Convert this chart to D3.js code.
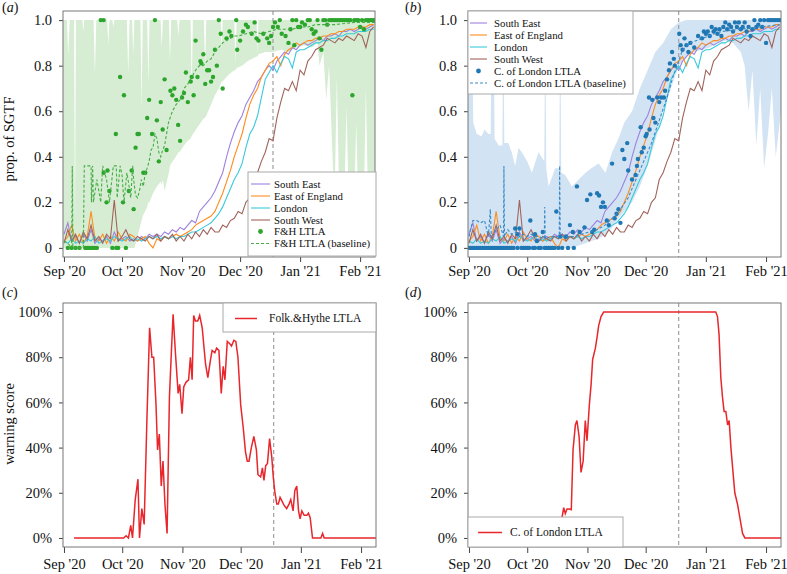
<!DOCTYPE html>
<html><head><meta charset="utf-8">
<script src="https://cdn.jsdelivr.net/npm/d3@7"></script>
<style>
body{margin:0;background:#fff}
svg text{font-family:"Liberation Serif","Times New Roman",serif;fill:#111}
</style></head><body>
<svg id="c" width="787" height="574"></svg>
<script>
// ---------- data ----------
const tickDays=[0,30,61,91,122,153];          // days since 1 Sep 2020
const tickLabels=["Sep '20","Oct '20","Nov '20","Dec '20","Jan '21","Feb '21"];
const propTicks=[0,0.2,0.4,0.6,0.8,1.0];
const propTickLabels=["0","0.2","0.4","0.6","0.8","1.0"];
const warnTicks=[0,0.2,0.4,0.6,0.8,1.0];
const warnTickLabels=["0%","20%","40%","60%","80%","100%"];
const markerDay=108;
const sampleDays=d3.range(0,161,2);
const regionNames=["South East","East of England","London","South West"];
const regionColors=["#9d82de","#ff8c1e","#38cadb","#a0645c"];

const southEast=[0.06,0.11,0.03,0.05,0.02,0.06,0.03,0.08,0.02,0.04,
 0.03,0.05,0.02,0.07,0.03,0.04,0.05,0.03,0.04,0.03,
 0.05,0.04,0.06,0.05,0.06,0.05,0.07,0.06,0.08,0.07,
 0.09,0.08,0.10,0.12,0.11,0.16,0.18,0.20,0.22,0.25,
 0.29,0.33,0.40,0.46,0.51,0.55,0.58,0.63,0.66,0.69,
 0.73,0.75,0.78,0.80,0.78,0.82,0.84,0.86,0.85,0.88,
 0.87,0.89,0.90,0.89,0.90,0.91,0.92,0.91,0.93,0.93,
 0.94,0.93,0.95,0.95,0.96,0.95,0.96,0.97,0.96,0.97,0.98];
const eastOfEngland=[0.03,0.05,0.10,0.03,0.06,0.02,0.05,0.16,0.04,0.03,
 0.06,0.02,0.05,0.03,0.07,0.04,0.03,0.06,0.05,0.03,
 0.04,0.05,0.02,0.00,0.04,0.03,0.05,0.04,0.05,0.06,
 0.05,0.06,0.07,0.08,0.10,0.11,0.12,0.13,0.14,0.16,
 0.20,0.24,0.29,0.34,0.40,0.45,0.50,0.57,0.63,0.67,
 0.70,0.75,0.78,0.81,0.82,0.84,0.80,0.85,0.87,0.88,
 0.90,0.89,0.90,0.91,0.91,0.92,0.92,0.93,0.93,0.94,
 0.94,0.95,0.95,0.96,0.96,0.96,0.97,0.97,0.97,0.98,0.98];
const london=[0.03,0.02,0.04,0.02,0.03,0.02,0.04,0.03,0.05,0.02,
 0.03,0.04,0.03,0.05,0.04,0.03,0.04,0.05,0.03,0.04,
 0.03,0.04,0.05,0.04,0.05,0.04,0.05,0.04,0.05,0.04,
 0.05,0.05,0.06,0.07,0.07,0.08,0.09,0.10,0.11,0.13,
 0.15,0.18,0.22,0.26,0.30,0.33,0.37,0.44,0.50,0.53,
 0.58,0.66,0.74,0.77,0.80,0.77,0.81,0.84,0.83,0.79,
 0.86,0.87,0.87,0.88,0.89,0.90,0.90,0.91,0.91,0.92,
 0.92,0.93,0.93,0.94,0.94,0.94,0.95,0.95,0.95,0.96,0.96];
const southWest=[0.02,0.08,0.03,0.06,0.02,0.07,0.04,0.10,0.03,0.05,
 0.02,0.06,0.04,0.21,0.03,0.05,0.08,0.04,0.03,0.05,
 0.04,0.03,0.05,0.04,0.06,0.03,0.05,0.04,0.06,0.03,
 0.05,0.03,0.06,0.04,0.07,0.05,0.08,0.06,0.09,0.07,
 0.07,0.10,0.09,0.12,0.13,0.16,0.15,0.20,0.22,0.30,
 0.33,0.38,0.42,0.48,0.47,0.57,0.64,0.70,0.69,0.73,
 0.69,0.78,0.76,0.82,0.84,0.87,0.88,0.89,0.92,0.91,
 0.90,0.92,0.91,0.93,0.92,0.91,0.94,0.93,0.88,0.95,0.97];

// uncertainty bands: [day, lower, upper]
const fhBand=[[-0.5,0,1],[1.5,0,1],[2.2,0,0.85],[3,0,1],[5.2,0,1],[5.7,0,0.11],[6.2,0,1],[9.5,0,1],[10,0,0.95],[10.5,0,1],
 [15.3,0,1],[16,0,0.76],[16.7,0,1],[22.3,0,1],[22.9,0,0.89],[23.5,0,1],[25,0,1],[25.5,0,0.97],[26,0,1],[32.5,0,1],
 [33.2,0,0.76],[33.9,0,1],[35.2,0,1],[35.8,0,0.85],[36.4,0,1],[38,0.05,1],[39.5,0.1,1],[40.1,0.12,0.61],[40.7,0.14,1],
 [43,0.18,1],[43.6,0.2,0.72],[44.2,0.2,1],[46,0.24,1],[48,0.27,1],[49.9,0.29,1],[50.5,0.28,0.88],[51.1,0.3,1],[52,0.25,1],
 [54.2,0.33,1],[54.8,0.36,0.82],[55.4,0.37,1],[57,0.39,1],[58.5,0.41,1],[59.1,0.42,0.93],[59.7,0.42,1],[62,0.45,1],
 [64,0.47,1],[65.4,0.48,1],[66,0.49,0.7],[66.6,0.5,1],[69,0.53,1],[72.3,0.57,1],[72.9,0.57,0.78],[73.5,0.58,1],[76,0.63,1],
 [78,0.67,1],[80,0.7,1],[81,0.72,1],[81.5,0.73,0.87],[82,0.73,1],[85,0.76,1],[88,0.78,1],[88.6,0.78,0.81],[89.2,0.79,1],
 [92,0.8,1],[95,0.82,1],[99.5,0.84,1],[100,0.84,0.85],[100.5,0.85,1],[104,0.86,1],[108,0.86,1],[112,0.87,1],[116,0.86,1],
 [120,0.88,1],[124,0.89,1],[128,0.88,1],[131,0.9,1],[132,0.8,1],[134,0.86,1],[135.5,0.65,1],[137,0.8,1],[139,0.35,1],
 [140,0.3,1],[141,0.75,1],[142,0.3,1],[145,0.28,1],[146,0.62,1],[147,0.25,1],[150,0.22,1],[151,0.55,1],[152,0.2,1],
 [155,0.25,1],[156,0.7,1],[157,0.25,1],[160.7,0.3,1]];
const colBand=[[-0.5,0,0.6],[0.4,0,1],[1.5,0,1],[2.2,0,0.55],[4,0,0.5],[6.5,0,0.49],[8,0,0.52],[10,0,0.5],[11.2,0,0.5],
 [11.7,0,1],[12.7,0,1],[13.2,0,0.48],[15.2,0,0.45],[17.2,0,0.45],[17.7,0,1],[18.2,0,0.46],[20.3,0,0.46],[22,0,0.42],
 [23.8,0,0.36],[25.5,0,0.44],[27.2,0,0.42],[30,0,0.38],[32.4,0,0.33],[35.8,0,0.42],[38.8,0,0.38],[39.3,0,1],[39.8,0,0.35],
 [41,0,0.27],[44.4,0,0.35],[46.5,0,0.35],[47,0,1],[47.5,0,0.33],[49.6,0,0.32],[53,0,0.27],[56.5,0.01,0.3],[60,0.02,0.33],
 [63,0.03,0.35],[66.8,0.04,0.37],[70.3,0.06,0.33],[73.7,0.09,0.42],[77,0.13,0.48],[80,0.16,0.55],[84,0.2,0.6],
 [88,0.27,0.7],[92,0.36,0.78],[96,0.47,0.86],[100,0.6,0.9],[104,0.7,0.96],[108,0.8,0.99],[112,0.84,1],[116,0.86,1],
 [120,0.87,1],[124,0.88,1],[128,0.9,1],[132,0.91,1],[136,0.9,1],[138,0.88,1],[140,0.86,1],[142,0.8,1],[144,0.6,1],
 [146,0.78,1],[148,0.45,1],[150,0.7,1],[152,0.35,1],[154,0.5,1],[156,0.7,1],[158,0.4,1],[160.7,0.6,1]];

const fhDots=[[2,0],[4,0],[6,0],[8,0],[11,0],[12,0],[13,0],[14,0],[15,0],[16,0],[17,0],[25,0],[27,0],[28,0],[32,0],
 [19,1],[20.5,1],[20.5,0.33],[22,0.2],[22.5,0.34],[23.5,0.25],[26.8,0.5],[29,0.75],[30.5,0.2],[31,0.67],
 [33.5,0.25],[35,0.34],[36,0.17],[37,0.44],[38,0.5],[38.7,0.5],[41,0.33],[42,0.33],[43,0.57],[44,0.65],[45.5,0.5],[47,1],
 [48,0.56],[49,0.38],[50,0.64],[51,0.52],[52,0.74],[53,0.43],[55,0.69],[56,0.67],[57,0.7],[58,0.65],[59,0.54],[60,0.47],
 [61,0.66],[62,0.68],[63,0.77],[64,0.64],[65.5,0.73],[66,0.75],[67,0.67],[68,0.91],[69,0.75],[70.5,0.82],[71,0.81],[72,0.85],
 [73,0.72],[74,0.78],[75,0.78],[76,0.73],[77,0.75],[78,0.87],[79,0.8],[80,1],[81,0.94],[82,0.7],[84,0.92],[85.5,0.95],
 [86.5,0.93],[89,1],[89.5,0.87],[91,0.91],[92.5,0.95],[94,0.98],[95,0.97],[97,0.94],[98.5,0.99],[99.5,0.92],[100.5,0.91],
 [103,0.94],[105,0.92],[106,0.9],[107,0.93],[108,0.97],[109,0.99],[110.5,0.97],[111.5,1],[112.5,0.94],[114.5,0.93],[116,0.9],
 [117,0.96],[118,1],[119,0.89],[120,1],[121,0.97],[122,0.97],[123,0.99],[124.5,0.98],[126,1],[127,1],[128,0.96],[129,0.94],
 [130,0.95],[131,1],[132,0.92],[133,0.87],[134,1],[135,1],[136,0.98],[137,1],[138,1],[139,1],[140,1],[141,1],[142,1],[143,1],
 [144,1],[145,1],[146,1],[147,1],[148,1],[149,0.67],[150,1],[151,1],[152,1],[153,0.97],[154,1],[155,0.96],[156,1],[157,1],
 [158,1],[159,1],[160,1]];
const fhBaseline=[[0,0.03],[2,0.02],[4,0],[4.3,0.36],[4.6,0],[10,0],[10.5,0.36],[14,0.36],[14.2,0.2],[14.8,0.36],[15.2,0.2],
 [17,0.3],[19,0.2],[20,0.36],[22,0.3],[23.5,0.2],[25.5,0.36],[27,0.36],[27.5,0.22],[29,0.36],[30,0.32],[31,0.2],[32.5,0.33],
 [33.5,0.28],[34.5,0.22],[35.5,0.36],[36,0.3],[37,0.23],[38,0.22],[39,0.25],[40,0.3],[41,0.27],[42,0.33],[43,0.35],[44,0.38],
 [45,0.43],[46,0.44],[47,0.5],[48,0.48],[49,0.42],[50,0.4],[51,0.43],[52,0.45],[53,0.5],[54,0.55],[56,0.6],[58,0.63],[60,0.65],
 [62,0.7],[64,0.72],[66,0.75],[68,0.78],[70,0.8],[72,0.8],[74,0.82],[76,0.83],[78,0.86],[80,0.88],[82,0.9],[84,0.91],[86,0.92],
 [88,0.93],[90,0.93],[94,0.94],[98,0.95],[102,0.94],[106,0.95],[110,0.96],[114,0.96],[118,0.96],[122,0.97],[126,0.97],
 [130,0.98],[140,0.98],[150,0.99],[161,0.99]];

const colDots=[[0,0],[1,0],[2,0],[3,0],[4,0],[5,0],[6,0],[7,0],[8,0],[9,0],[10,0],[11,0],[12,0],[13,0],[14,0],[15,0],[16,0],
 [17,0],[18,0],[19,0],[20,0],[21,0],[22,0],[23,0],[25,0],[27,0],[28,0],[29,0],[30,0],[31,0],[33,0],[34,0],[36,0],[37,0],
 [39,0],[40,0],[41,0],[42,0],[43,0],[44,0],[46,0],[48,0],[51,0],[54,0],
 [23.8,0.085],[25,0.06],[26,0.085],[31.6,0.12],[34,0.06],[35,0.03],[38,0.07],[45,0.16],[47,0.05],[50,0.05],[52,0.1],
 [53.5,0.07],[55.6,0.27],[57,0.07],[59.5,0.09],[60.8,0.21],[62.5,0.235],[63.5,0.07],[64.5,0.08],[66,0.24],[67,0.23],
 [68,0.18],[69,0.2],[70,0.18],[71,0.12],[72,0.1],[73.7,0.37],[75,0.13],[76,0.15],[77,0.17],[78,0.11],[79,0.43],[80,0.39],
 [81.5,0.46],[82,0.34],[84,0.3],[85.8,0.32],[86.5,0.36],[87,0.39],[88.4,0.53],[89,0.42],[90,0.44],[91,0.49],[91.5,0.5],
 [92.7,0.66],[93,0.52],[94.4,0.65],[95,0.57],[96,0.55],[97,0.66],[98,0.64],[99,0.66],[100.4,0.66],[101,0.69],[102,0.74],
 [103,0.78],[103.5,0.81],[104.6,0.86],[105.5,0.83],[106,0.8],[108.3,0.94],[109,0.89],[110,0.87],[111,0.92],[112,0.89],
 [113,0.86],[114,0.9],[116,0.88],[118,0.93],[120,0.92],[121,0.95],[122,0.94],[123,0.95],[124,0.93],[125,0.97],[126,0.95],
 [127,0.96],[128,0.94],[129,0.96],[130,0.93],[131,0.97],[132,0.99],[133,0.96],[134,0.98],[135,0.97],[136,0.95],[137,0.99],
 [138,0.97],[139,0.99],[140,0.96],[141,0.97],[142,0.99],[143,0.95],[144,0.97],[145,0.93],[146,0.96],[147,1],[148,0.97],
 [149,0.98],[150,1],[151,0.97],[152,1],[153,0.9],[154,1],[155,1],[156,1],[157,1],[158,1],[159,1],[160,1]];
const colBaseline=[[0,0.05],[2,0.12],[4,0.12],[6,0.11],[8,0.12],[10,0.05],[11,0.17],[11.5,0.05],[14,0.08],[16,0.1],
 [17.8,0.05],[18,0.36],[18.3,0.05],[20,0.08],[22,0.06],[24,0.07],[26,0.05],[28,0.06],[30,0.05],[32,0.06],[34,0.05],
 [36,0.05],[38.8,0.04],[39,0.18],[39.3,0.04],[42,0.05],[44,0.05],[46.5,0.05],[46.7,0.36],[47,0.05],[50,0.05],[54,0.05],
 [58,0.06],[62,0.07],[66,0.08],[70,0.1],[74,0.13],[78,0.17],[82,0.22],[86,0.3],[90,0.38],[94,0.46],[98,0.56],[102,0.66],
 [105,0.75],[108,0.82],[110,0.87],[114,0.9],[120,0.92],[130,0.95],[140,0.96],[150,0.97],[160,0.98]];

const fhWarning=[[5.2,0],[30.7,0],[32,0.01],[33.2,0],[34.4,0.056],[35.3,0],[36.7,0.17],[38.1,0.26],[38.9,0],[40.1,0.13],
 [41.3,0.06],[42.7,0.52],[44.1,0.93],[45.3,0.8],[46.2,0.8],[47.4,0.59],[48.2,0.39],[49.1,0.46],[50.1,0.23],[51,0.34],
 [52,0.15],[53.1,0.02],[54.3,0.62],[55.3,0.82],[56.2,0.99],[57.4,0.82],[58.8,0.64],[59.6,0.68],[60.8,0.55],[61.7,0.67],
 [62.9,0.69],[64.2,0.7],[65.1,0.8],[66,0.7],[66.8,0.985],[67.7,0.96],[68.9,0.96],[69.9,0.985],[71.2,0.93],[72.9,0.77],
 [74.1,0.71],[75.5,0.79],[76.3,0.83],[77.7,0.82],[78.6,0.84],[79.8,0.83],[81,0.64],[82,0.76],[82.9,0.7],[84.1,0.87],
 [85.4,0.86],[86.3,0.85],[87.5,0.875],[88.5,0.87],[89.6,0.8],[91,0.59],[92.3,0.49],[93.5,0.38],[94.4,0.34],[95.3,0.34],
 [96.5,0.4],[97.8,0.45],[99.1,0.39],[99.9,0.28],[101.3,0.27],[102.2,0.31],[103,0.255],[103.9,0.32],[104.8,0.33],
 [105.9,0.44],[107,0.36],[107.8,0.27],[108.5,0.21],[109.6,0.15],[110.4,0.15],[111.3,0.18],[112.5,0.16],[113.3,0.145],
 [114.7,0.13],[115.9,0.15],[116.8,0.17],[118,0.12],[118.9,0.21],[119.9,0.23],[120.8,0.12],[121.6,0.085],[122.5,0.12],
 [123.7,0.1],[125.1,0.1],[125.9,0.11],[126.8,0.09],[128,0],[132.3,0],[133.2,0.02],[134,0],[160.7,0]];
const colWarning=[[5.2,0],[42,0],[45,0.05],[47.9,0.09],[48.8,0.134],[49.6,0.108],[50.5,0.128],[51.7,0.128],[52.7,0.125],
 [53.6,0.39],[54.8,0.5],[55.6,0.52],[56.7,0.45],[57.7,0.29],[58.8,0.34],[59.9,0.52],[60.8,0.43],[62,0.59],[62.9,0.68],
 [63.7,0.79],[65.1,0.84],[66,0.89],[66.8,0.94],[68,0.98],[69.4,1],[127.1,1],[128,0.98],[128.8,0.9],[129.7,0.71],
 [130.6,0.62],[131.4,0.56],[132.3,0.56],[133.2,0.5],[134,0.52],[134.9,0.4],[136.9,0.2],[138.3,0.15],[139.7,0.08],
 [140.9,0.02],[142.1,0],[160.7,0]];

// ---------- drawing ----------
const svg=d3.select("#c");
const defs=svg.append("defs");
const greenBand="#d6edd3", blueBand="#d2e3f3", green="#2ca52c", blue="#1f77b4", red="#e8262b";
const greenDash="#45ad45", blueDash="#3a8ac8";

function makePanel(id,x0,x1,y0,y1,yTicks,yLabels,tickPad){
  const x=d3.scaleLinear().domain([-0.5,160.7]).range([x0,x1]);
  const y=d3.scaleLinear().domain([-0.04,1.04]).range([y1,y0]);
  defs.append("clipPath").attr("id","clip"+id).append("rect")
    .attr("x",x0).attr("y",y0).attr("width",x1-x0).attr("height",y1-y0);
  const g=svg.append("g");
  const plot=g.append("g").attr("clip-path","url(#clip"+id+")");
  const ya=g.append("g").attr("transform",`translate(${x0},0)`)
    .call(d3.axisLeft(y).tickValues(yTicks).tickFormat((d,i)=>yLabels[i]).tickSize(4).tickPadding(7));
  ya.select(".domain").remove();
  ya.selectAll("text").attr("font-size","14.5px").style("font-family","Liberation Serif");
  ya.selectAll("line").attr("stroke","#444");
  const xa=g.append("g").attr("transform",`translate(0,${y1})`)
    .call(d3.axisBottom(x).tickValues(tickDays).tickFormat((d,i)=>tickLabels[i]).tickSize(tickPad[0]).tickPadding(tickPad[1]));
  xa.select(".domain").remove();
  xa.selectAll("text").attr("font-size","14.5px").style("font-family","Liberation Serif");
  xa.selectAll("line").attr("stroke","#444");
  return {x,y,g,plot,x0,x1,y0,y1};
}
function frame(p){
  p.g.append("rect").attr("x",p.x0).attr("y",p.y0).attr("width",p.x1-p.x0).attr("height",p.y1-p.y0)
    .attr("fill","none").attr("stroke","#777").attr("stroke-width",1);
}
function marker(p){
  p.plot.append("line").attr("x1",p.x(markerDay)).attr("x2",p.x(markerDay)).attr("y1",p.y0).attr("y2",p.y1)
    .attr("stroke","#a0a0a0").attr("stroke-width",1.2).attr("stroke-dasharray","4,3");
}
function band(p,data,col){
  const a=d3.area().x(d=>p.x(d[0])).y0(d=>p.y(d[1])).y1(d=>p.y(d[2]));
  p.plot.append("path").attr("d",a(data)).attr("fill",col);
}
function regions(p){
  [southEast,eastOfEngland,london,southWest].forEach((s,k)=>{
    const l=d3.line().x((d,i)=>p.x(sampleDays[i])).y(d=>p.y(d));
    p.plot.append("path").attr("d",l(s)).attr("fill","none").attr("stroke",regionColors[k]).attr("stroke-width",1.1);
  });
}
function dots(p,data,col){
  p.plot.selectAll(null).data(data).enter().append("circle")
    .attr("cx",d=>p.x(d[0])).attr("cy",d=>p.y(d[1])).attr("r",2.2).attr("fill",col);
}
function dashed(p,data,col){
  const l=d3.line().x(d=>p.x(d[0])).y(d=>p.y(d[1]));
  p.plot.append("path").attr("d",l(data)).attr("fill","none").attr("stroke",col).attr("stroke-width",1.1).attr("stroke-dasharray","3,2");
}
function legend(p,lx,ly,lw,lh,items,fs,rowY,lineX,textX){
  const lg=p.g.append("g");
  lg.append("rect").attr("x",lx).attr("y",ly).attr("width",lw).attr("height",lh).attr("fill","#fff").attr("stroke","#aaa");
  items.forEach((it,i)=>{
    const yy=rowY[i];
    if(it.type==="dot") lg.append("circle").attr("cx",(lineX[0]+lineX[1])/2).attr("cy",yy).attr("r",2.4).attr("fill",it.color);
    else lg.append("line").attr("x1",lineX[0]).attr("x2",lineX[1]).attr("y1",yy).attr("y2",yy)
      .attr("stroke",it.color).attr("stroke-width",it.w||1.1).attr("stroke-dasharray",it.type==="dash"?"3,2":null);
    lg.append("text").attr("x",textX).attr("y",yy).attr("dy","0.33em").attr("font-size",fs+"px").text(it.label);
  });
}
function panelLabel(x,y,letter){
  const t=svg.append("text").attr("x",x).attr("y",y).attr("font-size","14px");
  t.append("tspan").text("(");
  t.append("tspan").attr("font-style","italic").text(letter);
  t.append("tspan").text(")");
}

// panel a
const pa=makePanel("a",63,375,11,257,propTicks,propTickLabels,[5,4]);
band(pa,fhBand,greenBand);
marker(pa); regions(pa); dots(pa,fhDots,green); dashed(pa,fhBaseline,greenDash); frame(pa);
legend(pa,248,172,128,84,
  regionNames.map((n,i)=>({label:n,color:regionColors[i]})).concat([{label:"F&H LTLA",color:green,type:"dot"},{label:"F&H LTLA (baseline)",color:greenDash,type:"dash"}]),
  10.8,[184,196,208,220,231.5,243.5],[251,270],274);

// panel b
const pb=makePanel("b",468,781,11,257,propTicks,propTickLabels,[5,4]);
band(pb,colBand,blueBand);
marker(pb); regions(pb); dots(pb,colDots,blue); dashed(pb,colBaseline,blueDash); frame(pb);
legend(pb,468,11,165,83,
  regionNames.map((n,i)=>({label:n,color:regionColors[i]})).concat([{label:"C. of London LTLA",color:blue,type:"dot"},{label:"C. of London LTLA (baseline)",color:blueDash,type:"dash"}]),
  10.8,[23,35,47,59,71,83],[470,487],494);

// panel c
const pc=makePanel("c",63,376,303,547,warnTicks,warnTickLabels,[6,6]);
marker(pc);
pc.plot.append("path").attr("d",d3.line().x(d=>pc.x(d[0])).y(d=>pc.y(d[1]))(fhWarning))
  .attr("fill","none").attr("stroke",red).attr("stroke-width",1.5);
frame(pc);
legend(pc,223,303,153,29,[{label:"Folk.&Hythe LTLA",color:red,w:1.5}],11.5,[318.5],[235,257],269);

// panel d
const pd=makePanel("d",468,781,303,547,warnTicks,warnTickLabels,[6,6]);
marker(pd);
pd.plot.append("path").attr("d",d3.line().x(d=>pd.x(d[0])).y(d=>pd.y(d[1]))(colWarning))
  .attr("fill","none").attr("stroke",red).attr("stroke-width",1.5);
frame(pd);
legend(pd,468,517,155,30,[{label:"C. of London LTLA",color:red,w:1.5}],11.5,[532.5],[478,502],510);

// axis titles & panel labels
svg.append("text").attr("transform","translate(14,139) rotate(-90)").attr("text-anchor","middle").attr("font-size","14.5px").text("prop. of SGTF");
svg.append("text").attr("transform","translate(14,424) rotate(-90)").attr("text-anchor","middle").attr("font-size","14.5px").text("warning score");
panelLabel(2,12,"a"); panelLabel(405,12,"b"); panelLabel(2,297,"c"); panelLabel(405,297,"d");
</script></body></html>
